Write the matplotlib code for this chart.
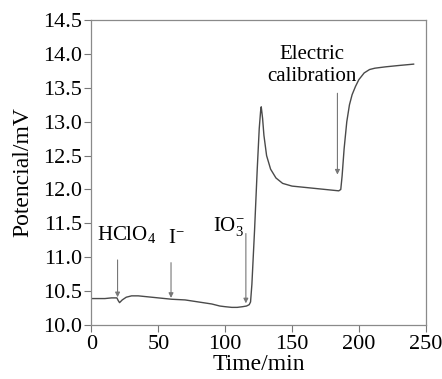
import matplotlib
matplotlib.use("Agg")
import matplotlib.pyplot as plt

time_min = [0, 5, 10, 15, 19, 20, 21, 23, 26, 30, 35, 40, 50, 60, 70, 80, 90, 96, 100, 105,
            109, 113, 116, 118, 119, 120, 122, 124, 125.5, 126.5, 127, 128, 129, 131, 134,
            138, 143, 150, 160, 170, 180, 185, 186.5, 187.5, 189, 191, 193, 195, 197.5, 200,
            204, 208, 212, 220, 230, 241]
potential_mv = [10.39, 10.39, 10.39, 10.40, 10.40, 10.36, 10.33, 10.37, 10.41, 10.43, 10.43, 10.42,
                10.40, 10.38, 10.37, 10.34, 10.31, 10.28, 10.27, 10.26,
                10.26, 10.27, 10.28, 10.30, 10.34, 10.60, 11.40, 12.30, 12.90, 13.15,
                13.22, 13.05, 12.80, 12.50, 12.30,
                12.17, 12.09, 12.05, 12.03, 12.01, 11.99, 11.98, 12.00, 12.20, 12.60, 13.00,
                13.25, 13.40, 13.52, 13.62,
                13.72, 13.77, 13.79, 13.81, 13.83, 13.85]

x_ticks = [0, 50, 100, 150, 200, 250]
y_ticks = [10.0, 10.5, 11.0, 11.5, 12.0, 12.5, 13.0, 13.5, 14.0, 14.5]

plt.rcParams['font.family'] = ['Liberation Serif', 'DejaVu Serif']
plt.rcParams['mathtext.fontset'] = 'custom'
plt.rcParams['mathtext.rm'] = 'Liberation Serif'
plt.rcParams['mathtext.it'] = 'Liberation Serif'

fig = plt.figure(figsize=(4.42, 3.79), dpi=100)
ax = fig.add_axes([0.207, 0.1425, 0.756, 0.8045])

ax.plot(time_min, potential_mv, color='#4a4a4a', lw=1.0)

ax.set_xlim(0, 250)
ax.set_ylim(10.0, 14.5)
ax.set_xticks(x_ticks)
ax.set_yticks(y_ticks)
ax.set_yticklabels([f"{v:.1f}" for v in y_ticks])
ax.tick_params(direction='out', length=5, width=0.8, color='#777777', labelsize=16, pad=2)
for s in ax.spines.values():
    s.set_color('#8a8a8a')
    s.set_linewidth(0.9)

ax.set_xlabel('Time/min', fontsize=17, labelpad=0)
ax.set_ylabel('Potencial/mV', fontsize=17, labelpad=7)

arrow = dict(arrowstyle='-|>', color='#777777', lw=0.8, mutation_scale=7, shrinkA=0, shrinkB=0)
ax.annotate('', xy=(19.5, 10.41), xytext=(19.5, 10.96), arrowprops=arrow)
ax.annotate('', xy=(59.5, 10.40), xytext=(59.5, 10.92), arrowprops=arrow)
ax.annotate('', xy=(115.5, 10.32), xytext=(115.5, 11.35), arrowprops=arrow)
ax.annotate('', xy=(184, 12.22), xytext=(184, 13.42), arrowprops=arrow)

ax.text(4, 11.33, r'HClO$_4$', fontsize=15, ha='left', va='center')
ax.text(57, 11.27, r'I$^{-}$', fontsize=15, ha='left', va='center')
ax.text(91, 11.45, r'IO$_3^{-}$', fontsize=15, ha='left', va='center')
ax.text(165, 13.83, 'Electric\ncalibration', fontsize=15, ha='center', va='center',
        linespacing=1.15)

fig.savefig('out.png', dpi=100)
